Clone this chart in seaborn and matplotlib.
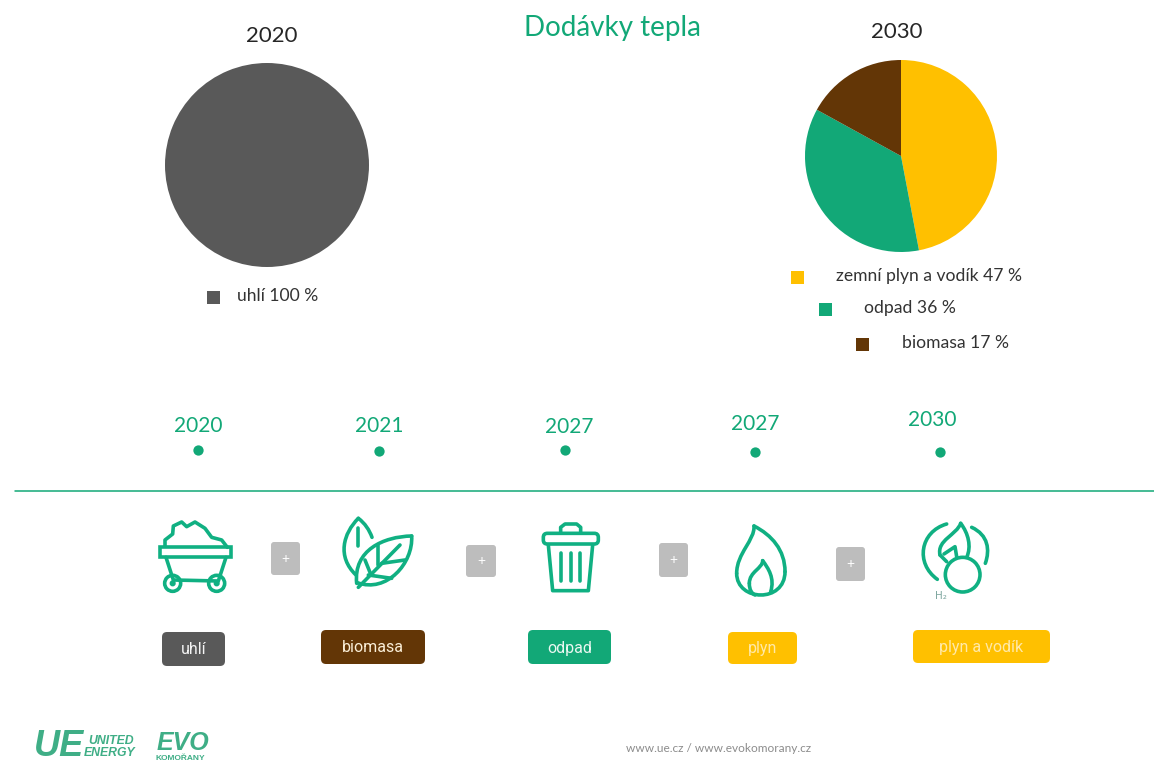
import matplotlib
matplotlib.use("Agg")
import matplotlib.pyplot as plt
import seaborn as sns
from matplotlib.lines import Line2D
from matplotlib.patches import Circle, FancyBboxPatch, PathPatch, Rectangle
from matplotlib.path import Path

# Heat supply mix
labels_2020 = ["uhlí"]
shares_2020 = [100]
labels_2030 = ["zemní plyn a vodík", "odpad", "biomasa"]
shares_2030 = [47, 36, 17]

# Transition timeline
milestone_years = ["2020", "2021", "2027", "2027", "2030"]
milestone_names = ["uhlí", "biomasa", "odpad", "plyn", "plyn a vodík"]

GREEN = "#12A877"
ICON = "#10B082"
GREY = "#595959"
BROWN = "#633606"
YELLOW = "#FFC000"
BADGE = "#BDBDBD"
W, H = 1154, 765

sns.set_theme(style="white")
plt.rcParams["font.family"] = ["Lato", "DejaVu Sans"]

fig = plt.figure(figsize=(W / 100, H / 100), dpi=100, facecolor="white")
canvas = fig.add_axes([0, 0, 1, 1])
canvas.set_xlim(0, W)
canvas.set_ylim(H, 0)
canvas.axis("off")


def draw_pie(values, colors, cx, cy, r):
    ax = fig.add_axes([(cx - r) / W, 1 - (cy + r) / H, 2 * r / W, 2 * r / H])
    ax.pie(values, colors=colors, radius=1, startangle=90, counterclock=False,
           wedgeprops={"linewidth": 0})
    ax.set_xlim(-1, 1)
    ax.set_ylim(-1, 1)
    ax.axis("off")


draw_pie(shares_2020, [GREY], 267, 165, 102)
draw_pie(shares_2030, [YELLOW, GREEN, BROWN], 901, 156, 96)

# Headings
canvas.text(612, 28, "Dodávky tepla", color=GREEN, fontsize=20, ha="center", va="center")
canvas.text(272, 36, "2020", color="#262626", fontsize=16, ha="center", va="center")
canvas.text(897, 32, "2030", color="#262626", fontsize=16, ha="center", va="center")


def legend_row(sx, sy, tx, text, color):
    canvas.add_patch(Rectangle((sx - 6.5, sy - 6.5), 13, 13, color=color, lw=0))
    canvas.text(tx, sy - 1.5, text, color="#333333", fontsize=12.6, va="center")


legend_row(213, 297, 237, f"{labels_2020[0]} {shares_2020[0]} %", GREY)
legend_row(797, 277, 836, f"{labels_2030[0]} {shares_2030[0]} %", YELLOW)
legend_row(825, 309, 864, f"{labels_2030[1]} {shares_2030[1]} %", GREEN)
legend_row(862, 344, 902, f"{labels_2030[2]} {shares_2030[2]} %", BROWN)

# Timeline
year_x = [198, 379, 569, 755, 932]
year_y = [426, 426, 427, 424, 420]
dot_x = [198, 379, 565, 755, 940]
dot_y = [450, 451, 450, 452, 452]
for x, y, year in zip(year_x, year_y, milestone_years):
    canvas.text(x, y, year, color=GREEN, fontsize=15, ha="center", va="center")
sns.scatterplot(x=dot_x, y=dot_y, ax=canvas, color=GREEN, s=55, linewidth=0, legend=False)
canvas.set_xlim(0, W)
canvas.set_ylim(H, 0)
canvas.axis("off")
canvas.add_line(Line2D([15, W], [491, 491], color=GREEN, lw=1.1))

# Category pills
pills = [(162, 632, 63, 34, GREY, "#F4F4F4"), (321, 630, 104, 34, BROWN, "#FBEFD8"),
         (528, 630, 83, 34, GREEN, "#EAF7F1"), (728, 632, 69, 32, YELLOW, "#FFE9A8"),
         (913, 630, 137, 33, YELLOW, "#FFE9A8")]
for (x, y, w, h, color, ink), name in zip(pills, milestone_names):
    canvas.add_patch(FancyBboxPatch((x + 4, y + 4), w - 8, h - 8, boxstyle="round,pad=4,rounding_size=5",
                                    fc=color, ec="none"))
    canvas.text(x + w / 2, y + h / 2 + 1, name, color=ink, fontsize=11.5,
                ha="center", va="center", family=["Roboto", "DejaVu Sans"])

# Plus badges between the icons
for x, y, w, h in [(271, 542, 29, 33), (466, 545, 30, 32), (659, 543, 29, 34), (836, 547, 29, 34)]:
    canvas.add_patch(FancyBboxPatch((x + 3, y + 3), w - 6, h - 6, boxstyle="round,pad=3,rounding_size=3",
                                    fc=BADGE, ec="none"))
    canvas.text(x + w / 2, y + h / 2, "+", color="white", fontsize=10, ha="center", va="center")


def stroke(points, ox, oy, closed=False, lw=2.6):
    """Polyline given in 3x units relative to an icon origin."""
    xs = [ox + p[0] / 3 for p in points]
    ys = [oy + p[1] / 3 for p in points]
    if closed:
        xs.append(xs[0])
        ys.append(ys[0])
    canvas.add_line(Line2D(xs, ys, color=ICON, lw=lw, solid_capstyle="round", solid_joinstyle="round"))


def curve(points, ox, oy, lw=2.6):
    """Cubic Bezier chain: start point followed by triples of control points."""
    verts = [(ox + p[0] / 3, oy + p[1] / 3) for p in points]
    codes = [Path.MOVETO] + [Path.CURVE4] * (len(verts) - 1)
    canvas.add_patch(PathPatch(Path(verts, codes), fc="none", ec=ICON, lw=lw, capstyle="round"))


def ring(cx, cy, r, ox, oy, lw=2.6):
    canvas.add_patch(Circle((ox + cx / 3, oy + cy / 3), r / 3, fc="none", ec=ICON, lw=lw))


# Coal cart
ox, oy = 130, 500
canvas.add_patch(Rectangle((ox + 90 / 3, oy + 142 / 3), 214 / 3, 30 / 3, fc="none", ec=ICON, lw=2.6))
stroke([(108, 172), (130, 240), (265, 243), (288, 172)], ox, oy)
ring(128, 250, 24, ox, oy)
ring(260, 250, 24, ox, oy)
ring(128, 250, 5, ox, oy, lw=2)
ring(260, 250, 5, ox, oy, lw=2)
stroke([(105, 138), (105, 120), (128, 102), (130, 78), (155, 66), (170, 80), (195, 66), (225, 85),
        (245, 112), (275, 120), (292, 142)], ox, oy)

# Leaves
curve([(685, 55), (640, 100), (620, 170), (678, 225)], ox, oy)
curve([(685, 55), (705, 70), (718, 90), (726, 112)], ox, oy)
stroke([(685, 85), (685, 138)], ox, oy)
curve([(845, 108), (760, 110), (670, 150), (680, 250)], ox, oy)
curve([(845, 108), (850, 190), (770, 280), (682, 248)], ox, oy)
stroke([(685, 262), (810, 135)], ox, oy)
stroke([(745, 135), (745, 195)], ox, oy)
stroke([(705, 180), (722, 222)], ox, oy)
stroke([(755, 190), (825, 180)], ox, oy)
stroke([(715, 225), (785, 235)], ox, oy)

# Bin
stroke([(1255, 135), (1268, 272), (1375, 272), (1388, 135)], ox, oy)
canvas.add_patch(FancyBboxPatch((ox + 1240 / 3, oy + 100 / 3), 165 / 3, 32 / 3,
                                boxstyle="round,pad=0,rounding_size=4", fc="none", ec=ICON, lw=2.6))
stroke([(1292, 98), (1292, 82), (1305, 72), (1340, 72), (1352, 82), (1352, 98)], ox, oy)
for bar_x in (1294, 1322, 1350):
    stroke([(bar_x, 160), (bar_x, 243)], ox, oy)

# Flame
ox, oy = 640, 500
curve([(342, 78), (345, 120), (290, 160), (290, 220)], ox, oy)
curve([(290, 220), (290, 305), (435, 310), (435, 215)], ox, oy)
curve([(435, 215), (435, 150), (395, 105), (342, 78)], ox, oy)
curve([(368, 182), (368, 205), (328, 215), (328, 250)], ox, oy)
curve([(328, 250), (328, 270), (335, 280), (345, 285)], ox, oy)
curve([(368, 182), (385, 205), (405, 235), (392, 275)], ox, oy)

# Hydrogen flame
ring(968, 224, 52, ox, oy)
curve([(920, 72), (840, 95), (825, 190), (892, 238)], ox, oy)
curve([(995, 82), (1045, 105), (1050, 150), (1036, 190)], ox, oy)
curve([(962, 70), (950, 105), (890, 120), (900, 165)], ox, oy)
curve([(962, 70), (985, 100), (995, 140), (980, 172)], ox, oy)
stroke([(900, 165), (920, 185)], ox, oy)
stroke([(912, 162), (945, 140), (950, 170)], ox, oy)
canvas.text(ox + 903 / 3, oy + 288 / 3, "H₂", color="#7FA7A0", fontsize=7.5, ha="center", va="center",
            family=["DejaVu Sans"])

# Footer
canvas.text(719, 749, "www.ue.cz / www.evokomorany.cz", color="#8C8C8C", fontsize=8.6,
            ha="center", va="center")
LOGO = "#3FAE86"
logo_font = ["Liberation Sans"]
canvas.text(34, 746, "UE", color=LOGO, fontsize=26, style="italic", weight="bold", va="center",
            family=logo_font)
canvas.text(88, 741, "UNITED", color=LOGO, fontsize=8.8, style="italic", weight="bold", va="center",
            family=logo_font)
canvas.text(84, 753, "ENERGY", color=LOGO, fontsize=8.8, style="italic", weight="bold", va="center",
            family=logo_font)
canvas.text(157, 743, "EVO", color=LOGO, fontsize=18, style="italic", weight="bold", va="center",
            family=logo_font)
canvas.text(155, 759, "KOMOŘANY", color=LOGO, fontsize=6, weight="bold", va="center",
            family=logo_font)

fig.savefig("out.png", dpi=100)
